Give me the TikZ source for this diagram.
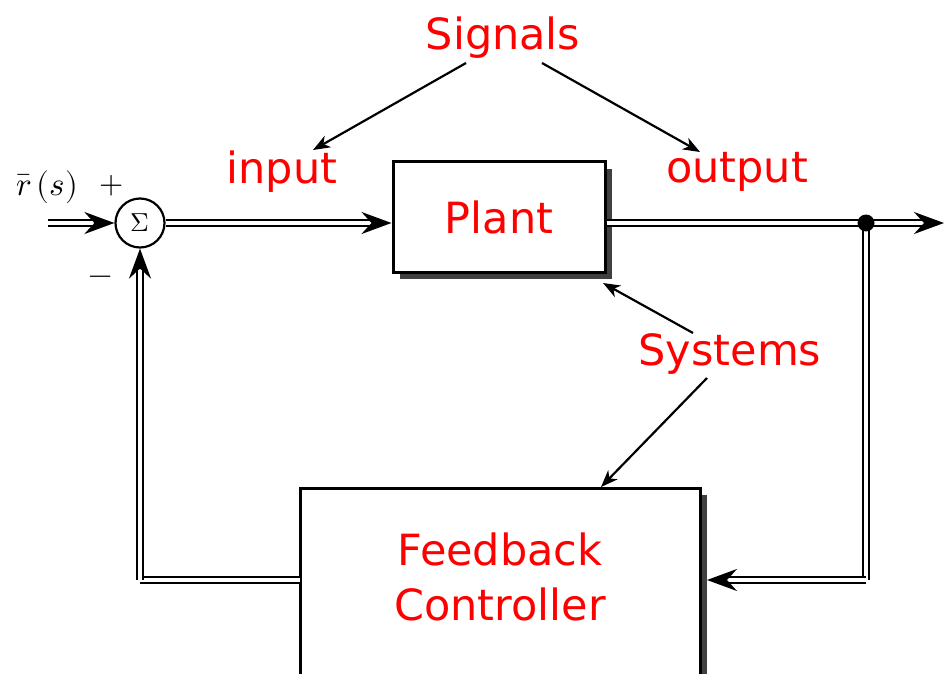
\documentclass[tikz,border=0pt]{standalone}
\usepackage{fontspec}
\setmainfont{DejaVu Sans}
\usepackage{unicode-math}
\setmathfont{Latin Modern Math}
\usepackage{graphicx}
\usetikzlibrary{arrows.meta,shadows}
\definecolor{shade}{HTML}{404040}
\begin{document}
\begin{tikzpicture}[x=1pt,y=-1pt,
  lbl/.style={text=red, font=\fontsize{43}{50}\selectfont, inner sep=0pt},
  blockbox/.style={draw=black, line width=3pt, fill=white,
     drop shadow={shadow xshift=7pt, shadow yshift=-7pt, fill=shade, opacity=1}},
  dbl/.style={double, double distance=3.2pt, line width=2.4pt,
     -{Stealth[length=30pt,width=22pt,inset=10pt]}},
  dbln/.style={double, double distance=3.2pt, line width=2.4pt},
  thin/.style={line width=2.2pt, -{Stealth[length=17pt,width=13pt,inset=5pt]}},
  mathlbl/.style={inner sep=0pt}
]
\useasboundingbox (0,0) rectangle (946,674);
% blocks
\node[blockbox, minimum width=212pt, minimum height=110pt] (plant) at (499,217) {};
\node[lbl] (plantt) at (plant.center) {Plant};
\node[blockbox, minimum width=400pt, minimum height=200pt] (fb) at (500,588) {};
\node[lbl, align=center] (fbt) at (500,577) {Feedback\\[5pt]Controller};
% summing junction
\node[draw, circle, line width=2.2pt, minimum size=49pt, inner sep=0pt, fill=white] (sum) at (140,223) {\scalebox{2.6}{$\Sigma$}};
% math labels
\node[mathlbl] (rs) at (47,187) {\scalebox{3.3}{$\bar{r}\,(s)$}};
\node[mathlbl] (plus) at (112,186) {\scalebox{3.1}{$+$}};
\node[mathlbl] (minus) at (101,280) {\scalebox{3.1}{$-$}};
% coordinates
\coordinate (in) at (48,223);
\coordinate (out) at (944,223);
\coordinate (junc) at (866,223);
\coordinate (fbr) at (866,580);
\coordinate (fbin) at (707,580);
\coordinate (fbout) at (300,580);
\coordinate (fbl) at (140,580);
% main signal path
\draw[dbl] (in) -- (sum.west);
\draw[dbl] (sum.east) -- (sum.east -| plant.west);
\draw[dbl] (junc -| plant.east) -- (out);
\draw[dbln] (junc) -- (fbr);
\draw[dbl] (fbr) -- (fbin);
\draw[dbln] (fbout) -- (fbl);
\draw[dbl] (fbl) -- (sum.south);
\fill (junc) circle (8.5pt);
% labels
\node[lbl] (sig) at (503,38) {Signals};
\node[lbl] (inp) at (282,172) {input};
\node[lbl] (outp) at (737,172) {output};
\node[lbl] (sys) at (730,354) {Systems};
\coordinate (sigl) at (466,63);
\coordinate (sigr) at (542,63);
\coordinate (inptip) at (313,150);
\coordinate (outtip) at (700,152);
\coordinate (sysa) at (693,333);
\coordinate (sysb) at (707,378);
\coordinate (planttip) at (603,283);
\coordinate (fbtip) at (601,487);
\draw[thin] (sigl) -- (inptip);
\draw[thin] (sigr) -- (outtip);
\draw[thin] (sysa) -- (planttip);
\draw[thin] (sysb) -- (fbtip);
\end{tikzpicture}
\end{document}
